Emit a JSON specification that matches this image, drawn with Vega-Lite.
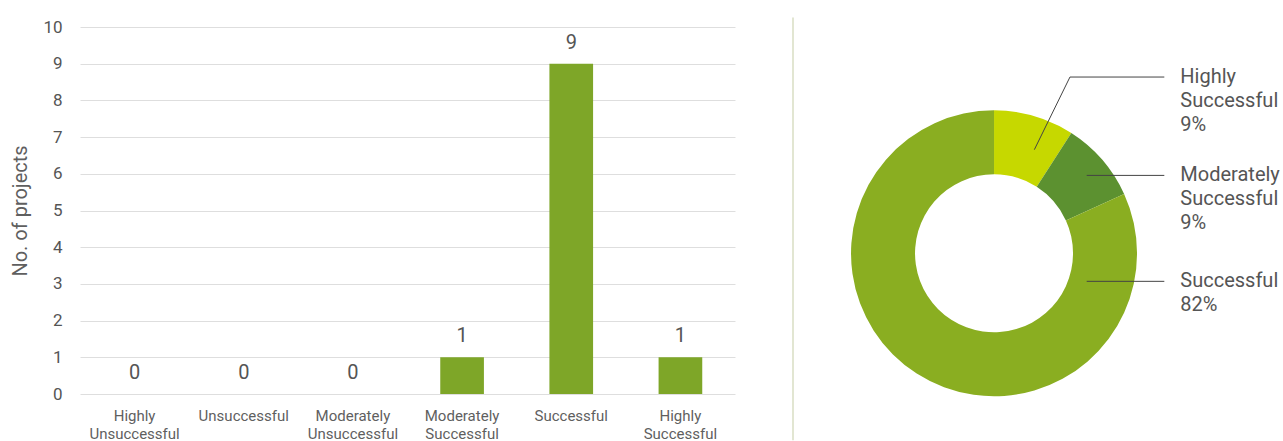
{
  "$schema": "https://vega.github.io/schema/vega-lite/v6.json",
  "padding": {"left": 10, "top": 16, "right": 0, "bottom": 0},
  "config": {"view": {"stroke": null}, "font": "Roboto"},
  "bounds": "flush",
  "spacing": 58,
  "datasets": {
    "bars": [
      {"category": "Highly Unsuccessful", "count": 0},
      {"category": "Unsuccessful", "count": 0},
      {"category": "Moderately Unsuccessful", "count": 0},
      {"category": "Moderately Successful", "count": 1},
      {"category": "Successful", "count": 9},
      {"category": "Highly Successful", "count": 1}
    ],
    "donut": [
      {"category": "Highly Successful", "value": 1, "ord": 1},
      {"category": "Moderately Successful", "value": 1, "ord": 2},
      {"category": "Successful", "value": 9, "ord": 3}
    ],
    "leaders": [
      {"x": 0.282, "y": 0.725, "x2": 0.531, "y2": 1.233},
      {"x": 0.531, "y": 1.233, "x2": 1.191, "y2": 1.233},
      {"x": 0.648, "y": 0.545, "x2": 1.191, "y2": 0.545},
      {"x": 0.648, "y": -0.196, "x2": 1.191, "y2": -0.196}
    ],
    "labels": [
      {"x": 1.191, "y": 1.233, "label": "Highly\nSuccessful\n9%"},
      {"x": 1.191, "y": 0.545, "label": "Moderately\nSuccessful\n9%"},
      {"x": 1.191, "y": -0.196, "label": "Successful\n82%"}
    ],
    "divider": [{"x": -1.406, "y": 1.65, "y2": -1.308}]
  },
  "hconcat": [
    {
      "width": 655,
      "height": 367,
      "data": {"name": "bars"},
      "encoding": {
        "x": {
          "field": "category", "type": "nominal", "sort": null,
          "scale": {"paddingInner": 0.6, "paddingOuter": 0.3},
          "axis": {
            "title": null, "domain": false, "ticks": false, "labelAngle": 0,
            "labelExpr": "split(datum.label, ' ')", "labelBaseline": "top",
            "labelLineHeight": 18, "labelPadding": 14, "labelFontSize": 15,
            "labelColor": "#5f5f5f", "labelFont": "Roboto"
          }
        },
        "y": {
          "field": "count", "type": "quantitative",
          "scale": {"domain": [0, 10], "nice": false},
          "axis": {
            "title": "No. of projects", "titleFontSize": 20, "titleFontWeight": "normal",
            "titleColor": "#5f5f5f", "titlePadding": 12, "titleFont": "Roboto",
            "values": [0, 1, 2, 3, 4, 5, 6, 7, 8, 9, 10],
            "domain": false, "ticks": false, "labelPadding": 18, "labelFontSize": 17,
            "labelColor": "#555555", "labelFont": "Roboto",
            "gridColor": "#dedede", "gridWidth": 1
          }
        }
      },
      "layer": [
        {"mark": {"type": "bar", "color": "#7ea628"}},
        {
          "mark": {"type": "text", "baseline": "alphabetic", "dy": -15, "fontSize": 20, "color": "#555555", "font": "Roboto"},
          "encoding": {"text": {"field": "count", "type": "quantitative"}}
        }
      ]
    },
    {
      "width": 486,
      "height": 367,
      "layer": [
        {
          "data": {"name": "divider"},
          "mark": {"type": "rule", "color": "#e2e6d2", "strokeWidth": 2},
          "encoding": {
            "x": {"field": "x", "type": "quantitative", "scale": {"domain": [-1.406, 1.993], "nice": false, "zero": false}, "axis": null},
            "y": {"field": "y", "type": "quantitative", "scale": {"domain": [-0.984, 1.583], "nice": false, "zero": false}, "axis": null},
            "y2": {"field": "y2"}
          }
        },
        {
          "data": {"name": "donut"},
          "mark": {"type": "arc", "outerRadius": 143, "innerRadius": 79},
          "encoding": {
            "x": {"datum": 0, "type": "quantitative"},
            "y": {"datum": 0, "type": "quantitative"},
            "theta": {"field": "value", "type": "quantitative", "stack": true},
            "order": {"field": "ord", "type": "quantitative"},
            "color": {
              "field": "category", "type": "nominal", "legend": null,
              "scale": {"domain": ["Highly Successful", "Moderately Successful", "Successful"], "range": ["#c6d800", "#5c9130", "#8aae21"]}
            }
          }
        },
        {
          "data": {"name": "leaders"},
          "mark": {"type": "rule", "color": "#444444", "strokeWidth": 1},
          "encoding": {
            "x": {"field": "x", "type": "quantitative"},
            "y": {"field": "y", "type": "quantitative"},
            "x2": {"field": "x2"},
            "y2": {"field": "y2"}
          }
        },
        {
          "data": {"name": "labels"},
          "mark": {"type": "text", "align": "left", "baseline": "alphabetic", "dx": 16, "dy": 6, "fontSize": 20, "lineHeight": 24, "lineBreak": "\n", "color": "#555555", "font": "Roboto"},
          "encoding": {
            "x": {"field": "x", "type": "quantitative"},
            "y": {"field": "y", "type": "quantitative"},
            "text": {"field": "label", "type": "nominal"}
          }
        }
      ]
    }
  ]
}
